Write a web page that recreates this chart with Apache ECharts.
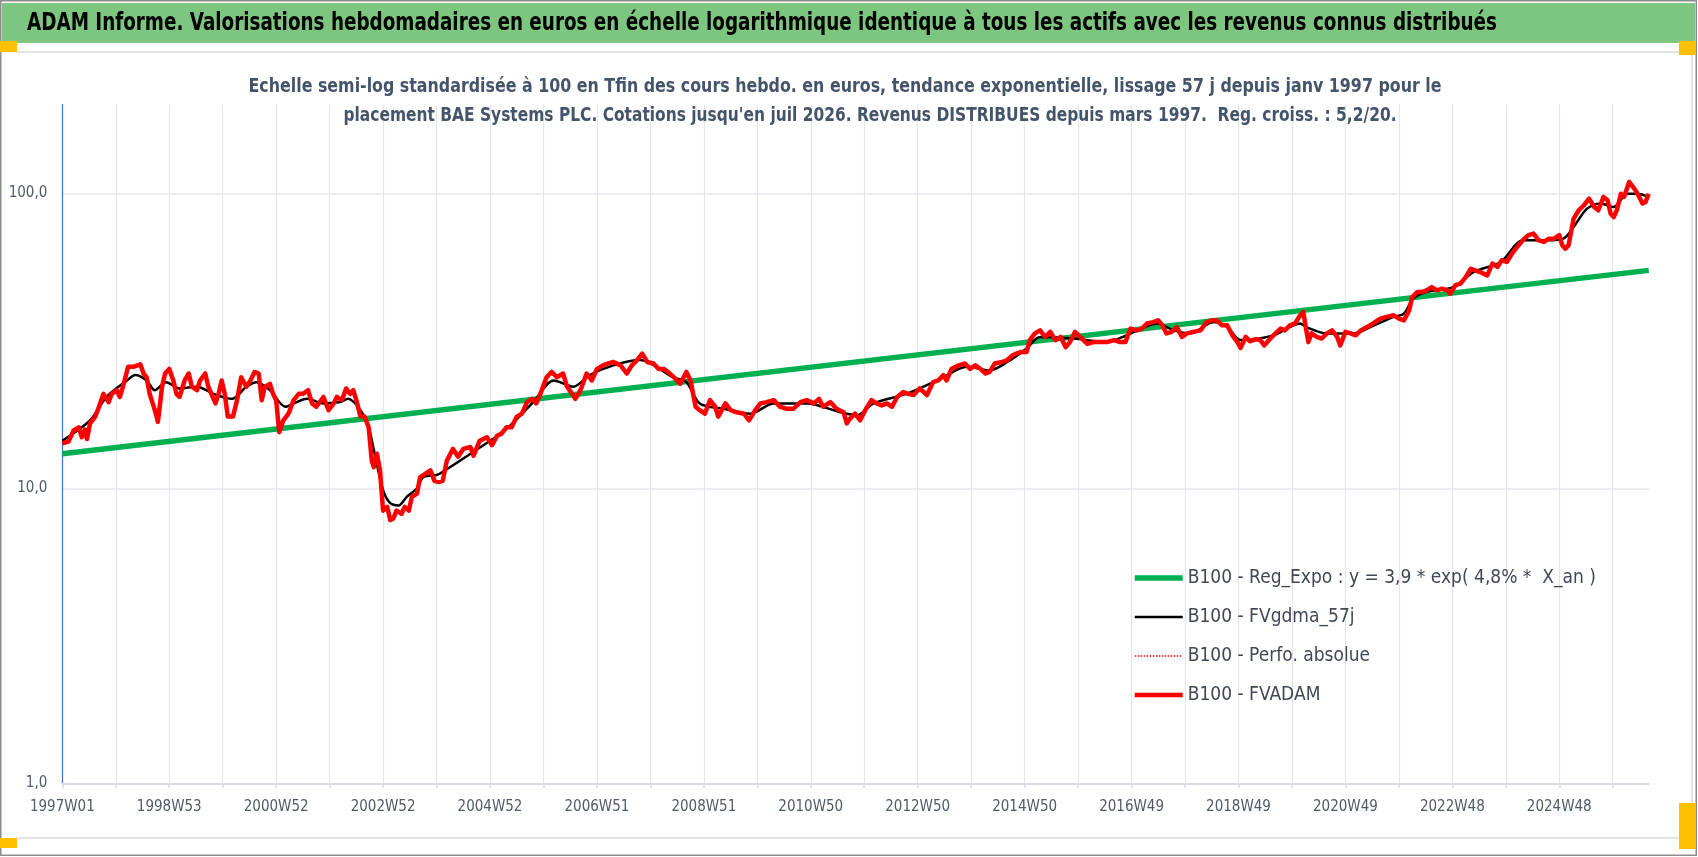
<!DOCTYPE html>
<html>
<head>
<meta charset="utf-8">
<script src="https://cdn.jsdelivr.net/npm/echarts@6.0.0/dist/echarts.min.js"></script>
<style>
  html, body { margin: 0; padding: 0; background: #fff; }
  #main { width: 1698px; height: 857px; }
</style>
</head>
<body>
<div id="main"></div>
<script>
// semaines ISO de 1997W01 a 2026W31
const longYears = [1998, 2004, 2009, 2015, 2020]
const firstYear = 1997, lastYear = 2026, lastWeek = 31

const mainTitle = 'ADAM Informe. Valorisations hebdomadaires en euros en échelle logarithmique identique à tous les actifs avec les revenus connus distribués'
const subLine1 = "Echelle semi-log standardisée à 100 en Tfin des cours hebdo. en euros, tendance exponentielle, lissage 57 j depuis janv 1997 pour le"
const subLine2 = "placement BAE Systems PLC. Cotations jusqu'en juil 2026. Revenus DISTRIBUES depuis mars 1997.  Reg. croiss. : 5,2/20."

const names = [
    'B100 - Reg_Expo : y = 3,9 * exp( 4,8% *  X_an )',
    'B100 - FVgdma_57j',
    'B100 - Perfo. absolue',
    'B100 - FVADAM'
]

// [indice semaine, valeur]
const regExpo = [[0, 13.1], [1543, 54.8]]

const fvgdma = [
    [0,14.5],[27,17.0],[43,20.4],[63,23.2],[71,24.2],[82,23.2],[90,21.5],[101,22.9],[114,21.8],[131,22.1],
    [147,20.9],[165,20.1],[179,22.1],[189,22.9],[202,21.5],[217,18.9],[228,19.6],[238,20.1],[254,19.4],[270,19.6],
    [278,20.1],[290,18.4],[298,16.1],[303,13.5],[312,9.85],[319,8.9],[327,8.75],[335,9.35],[345,10.0],[351,10.9],
    [364,11.1],[367,11.2],[400,13.3],[432,15.9],[458,19.6],[478,23.2],[497,22.1],[513,24.2],[536,26.1],[562,27.2],
    [594,23.8],[607,22.9],[620,19.4],[643,18.6],[669,17.9],[692,19.4],[724,19.4],[757,18.1],[773,17.7],[789,19.4],
    [821,20.9],[854,23.5],[880,25.8],[902,25.1],[919,26.8],[938,29.8],[951,32.6],[984,32.2],[1016,31.3],[1035,33.0],
    [1065,36.2],[1081,34.3],[1097,33.5],[1120,36.6],[1133,35.2],[1146,31.8],[1178,33.0],[1204,36.2],[1210,35.2],[1230,33.5],
    [1256,33.5],[1276,35.7],[1295,38.1],[1305,39.1],[1314,44.0],[1327,46.3],[1353,48.1],[1373,54.1],[1399,58.5],[1421,69.3],
    [1444,69.3],[1460,70.2],[1470,76.9],[1483,88.7],[1496,92.3],[1509,89.9],[1522,99.7],[1532,99.7],[1543,97.2]
]

const fvadam = [
    [0,14.2],[6,14.4],[11,15.7],[16,16.1],[19,14.9],[22,15.8],[24,14.7],[27,16.6],[32,17.5],[35,18.6],
    [40,20.9],[45,19.6],[48,20.9],[53,21.5],[56,20.4],[59,22.1],[64,25.8],[69,25.8],[76,26.3],[79,24.5],
    [82,23.8],[85,20.9],[90,18.4],[93,16.8],[97,22.1],[100,24.5],[104,25.4],[108,23.2],[111,20.9],[114,20.4],
    [119,23.2],[123,24.5],[126,22.1],[131,21.5],[134,23.2],[139,24.5],[142,22.1],[145,20.9],[149,19.4],[152,20.9],
    [155,23.2],[158,20.9],[161,17.5],[166,17.5],[170,19.9],[174,23.8],[179,22.1],[183,23.2],[187,24.8],[191,24.5],
    [194,19.9],[197,22.1],[202,22.6],[205,20.9],[208,19.9],[211,15.5],[215,17.0],[220,17.9],[225,19.9],[230,20.9],
    [234,20.9],[239,21.5],[243,19.4],[247,18.9],[254,20.4],[259,18.4],[264,19.4],[267,20.4],[272,19.9],[276,21.8],
    [280,20.9],[283,21.5],[286,19.9],[290,17.5],[294,17.5],[298,16.1],[301,12.4],[303,11.8],[306,13.1],[309,11.5],
    [312,8.4],[316,8.65],[319,7.8],[322,7.9],[325,8.4],[330,8.2],[333,8.65],[337,8.4],[340,9.35],[345,9.6],
    [348,10.9],[353,11.2],[358,11.5],[362,10.6],[366,10.5],[370,10.6],[374,12.4],[380,13.6],[385,12.8],[390,13.6],
    [397,13.8],[400,12.9],[406,14.5],[413,14.9],[418,14.0],[423,15.1],[427,15.3],[432,16.1],[437,16.1],[442,17.5],
    [447,17.9],[452,19.6],[457,20.1],[461,19.4],[465,20.9],[471,23.8],[476,24.8],[481,23.8],[487,24.5],[491,22.1],
    [496,20.9],[499,20.1],[504,21.5],[510,24.5],[515,23.2],[520,25.4],[526,26.1],[531,26.5],[536,26.8],[543,26.1],
    [549,24.5],[554,26.1],[559,27.2],[564,28.6],[569,26.8],[575,26.5],[580,25.4],[585,25.4],[591,24.5],[598,23.2],
    [601,22.6],[607,24.8],[611,23.2],[616,18.9],[620,18.4],[625,17.9],[630,19.9],[635,18.9],[638,17.5],[645,19.4],
    [650,18.4],[656,18.1],[663,17.9],[668,17.0],[674,18.4],[679,19.4],[685,19.6],[692,19.9],[698,18.9],[705,18.6],
    [711,18.6],[718,19.6],[724,19.9],[731,19.4],[736,20.1],[740,18.9],[747,19.6],[753,18.6],[760,18.1],[763,16.6],
    [766,17.2],[771,17.9],[776,17.0],[781,18.4],[787,19.9],[792,19.4],[797,19.1],[802,19.4],[807,18.9],[812,20.4],
    [818,21.2],[823,20.9],[828,20.7],[834,21.8],[841,20.7],[847,22.9],[852,23.2],[857,24.2],[860,23.2],[865,25.4],
    [872,26.1],[878,26.5],[883,25.4],[888,26.1],[893,25.4],[898,24.5],[902,24.8],[907,26.5],[914,26.8],[919,27.2],
    [924,28.2],[928,28.6],[933,29.0],[938,29.0],[941,31.8],[946,33.5],[951,34.3],[956,32.6],[961,33.9],[966,31.8],
    [971,32.6],[976,30.1],[980,31.3],[985,33.9],[990,32.6],[997,30.9],[1003,31.3],[1010,31.3],[1016,31.3],[1023,31.8],
    [1029,31.3],[1034,31.3],[1039,34.8],[1045,34.3],[1050,34.8],[1055,36.2],[1061,36.6],[1066,37.1],[1070,35.7],[1074,33.5],
    [1079,33.9],[1084,35.2],[1089,32.6],[1094,33.5],[1100,33.9],[1107,34.3],[1113,36.6],[1118,37.1],[1123,37.1],[1128,35.7],
    [1133,35.7],[1138,33.0],[1143,31.3],[1146,29.9],[1151,32.6],[1155,31.5],[1160,32.0],[1165,31.9],[1169,30.5],[1175,32.2],
    [1180,33.5],[1185,34.8],[1189,34.3],[1194,35.7],[1199,36.2],[1204,38.6],[1207,39.6],[1210,34.3],[1212,31.3],[1215,33.5],
    [1220,32.6],[1225,32.2],[1230,33.5],[1235,34.3],[1240,32.6],[1243,30.5],[1248,33.9],[1253,33.5],[1258,33.0],[1263,34.3],
    [1269,35.2],[1275,36.2],[1282,37.6],[1288,38.1],[1295,38.6],[1300,37.6],[1305,37.1],[1310,40.1],[1313,44.5],[1318,46.3],
    [1323,46.3],[1327,46.9],[1332,48.1],[1337,46.9],[1342,47.5],[1347,46.9],[1350,45.7],[1355,48.8],[1360,49.4],[1365,52.0],
    [1370,55.5],[1374,54.8],[1379,54.1],[1386,52.7],[1391,57.8],[1396,56.3],[1400,59.3],[1405,58.5],[1410,62.4],[1415,65.8],
    [1422,70.2],[1426,72.1],[1431,73.0],[1436,69.3],[1441,68.4],[1446,70.2],[1451,70.2],[1456,72.1],[1459,66.6],[1462,64.9],
    [1465,66.6],[1470,82.1],[1475,87.6],[1480,91.1],[1485,95.9],[1490,89.9],[1494,87.6],[1499,97.2],[1503,94.7],[1506,85.3],
    [1509,83.1],[1512,87.6],[1516,99.7],[1519,97.2],[1524,109.3],[1529,103.7],[1533,98.5],[1537,92.3],[1540,93.5],[1543,99.7]
]

const weeks = []
for (let y = firstYear; y <= lastYear; y++) {
    const n = y === lastYear ? lastWeek : (longYears.includes(y) ? 53 : 52)
    for (let w = 1; w <= n; w++) weeks.push(y + 'W' + String(w).padStart(2, '0'))
}

const FONT = "'Liberation Sans Narrow', 'DejaVu Sans Condensed', sans-serif"
const axisColor = '#505a67'

// pas de police etroite : on comprime les titres a la largeur voulue
const measure = document.createElement('canvas').getContext('2d')
const squeeze = (text, font, target) => {
    measure.font = font
    return Math.min(1, target / measure.measureText(text).width)
}
const titleFont = 'bold 24px ' + FONT
const subFont = 'bold 20px ' + FONT

var myChart = echarts.init(document.getElementById('main'))

var option = {
    animation: false,
    backgroundColor: '#ffffff',
    textStyle: { fontFamily: FONT },
    graphic: [
        // cadre et bandeau
        { type: 'rect', silent: true, z: -10, shape: { x: 0.75, y: 0.75, width: 1695.5, height: 854.5 },
          style: { fill: '#ffffff', stroke: '#8c8c8c', lineWidth: 1.5 } },
        { type: 'rect', silent: true, z: -9, shape: { x: 2, y: 3, width: 1693, height: 40 },
          style: { fill: '#7dc67f' } },
        { type: 'polyline', silent: true, z: -9, shape: { points: [[17, 52], [1692, 52], [1692, 838], [17, 838]] },
          style: { stroke: '#e4e4e4', lineWidth: 2, fill: null } },
        { type: 'rect', silent: true, z: -8, shape: { x: 0, y: 41, width: 17, height: 11 }, style: { fill: '#ffc000' } },
        { type: 'rect', silent: true, z: -8, shape: { x: 0, y: 838, width: 17, height: 10 }, style: { fill: '#ffc000' } },
        { type: 'rect', silent: true, z: -8, shape: { x: 1679, y: 41, width: 17, height: 14 }, style: { fill: '#ffc000' } },
        { type: 'rect', silent: true, z: -8, shape: { x: 1679, y: 803, width: 17, height: 46 }, style: { fill: '#ffc000' } },
        { type: 'text', silent: true, z: 10, x: 27, y: 24, scaleX: squeeze(mainTitle, titleFont, 1470),
          style: { text: mainTitle, fill: '#000000', font: titleFont, align: 'left', verticalAlign: 'middle' } },
        { type: 'text', silent: true, z: 10, x: 845, y: 87, scaleX: squeeze(subLine1, subFont, 1193),
          style: { text: subLine1, fill: '#44546a', font: subFont, align: 'center', verticalAlign: 'middle' } },
        { type: 'text', silent: true, z: 10, x: 870, y: 116, scaleX: squeeze(subLine2, subFont, 1053),
          style: { text: subLine2, fill: '#44546a', font: subFont, align: 'center', verticalAlign: 'middle' } }
    ],
    legend: {
        data: names,
        orient: 'vertical',
        left: 1132,
        top: 568,
        padding: 0,
        itemWidth: 48,
        itemHeight: 20,
        itemGap: 19,
        itemStyle: { opacity: 0 },
        lineStyle: { width: 'inherit' },
        textStyle: { fontSize: 19, lineHeight: 20, color: '#404855', fontFamily: FONT }
    },
    grid: { left: 62.3, right: 49.3, top: 104.5, bottom: 73.7, containLabel: false },
    xAxis: {
        type: 'category',
        data: weeks,
        boundaryGap: false,
        axisLine: { show: true, lineStyle: { color: '#d9dce3', width: 2 } },
        axisTick: { show: true, interval: 51, length: 5, lineStyle: { color: '#d9dce3', width: 1.5 } },
        axisLabel: { interval: 103, margin: 16, fontSize: 15, color: axisColor, fontFamily: FONT },
        splitLine: { show: true, interval: 51, lineStyle: { color: '#e3e6ec', width: 1.2 } }
    },
    yAxis: {
        type: 'log',
        logBase: 10,
        min: 1,
        max: 200,
        axisLine: { show: true, lineStyle: { color: '#4472c4', width: 1.2 } },
        axisTick: { show: false },
        axisLabel: { margin: 15, fontSize: 15, color: axisColor, fontFamily: FONT, showMaxLabel: false,
                     formatter: v => v.toFixed(1).replace('.', ',') },
        splitLine: { show: true, showMaxLine: false, lineStyle: { color: '#e3e6ec', width: 1.5 } }
    },
    series: [
        { name: names[0], type: 'line', data: regExpo, symbol: 'none',
          lineStyle: { color: '#00b050', width: 5.5 }, itemStyle: { color: '#00b050' } },
        { name: names[1], type: 'line', data: fvgdma, symbol: 'none', smooth: 0.3,
          lineStyle: { color: '#000000', width: 2.5 }, itemStyle: { color: '#000000' } },
        { name: names[2], type: 'line', data: fvadam, symbol: 'none',
          lineStyle: { color: '#ff0000', width: 1.5, type: 'dotted' }, itemStyle: { color: '#ff0000' } },
        { name: names[3], type: 'line', data: fvadam, symbol: 'none',
          lineStyle: { color: '#ff0000', width: 4.5, join: 'round' }, itemStyle: { color: '#ff0000' } }
    ]
}

myChart.setOption(option)
</script>
</body>
</html>
